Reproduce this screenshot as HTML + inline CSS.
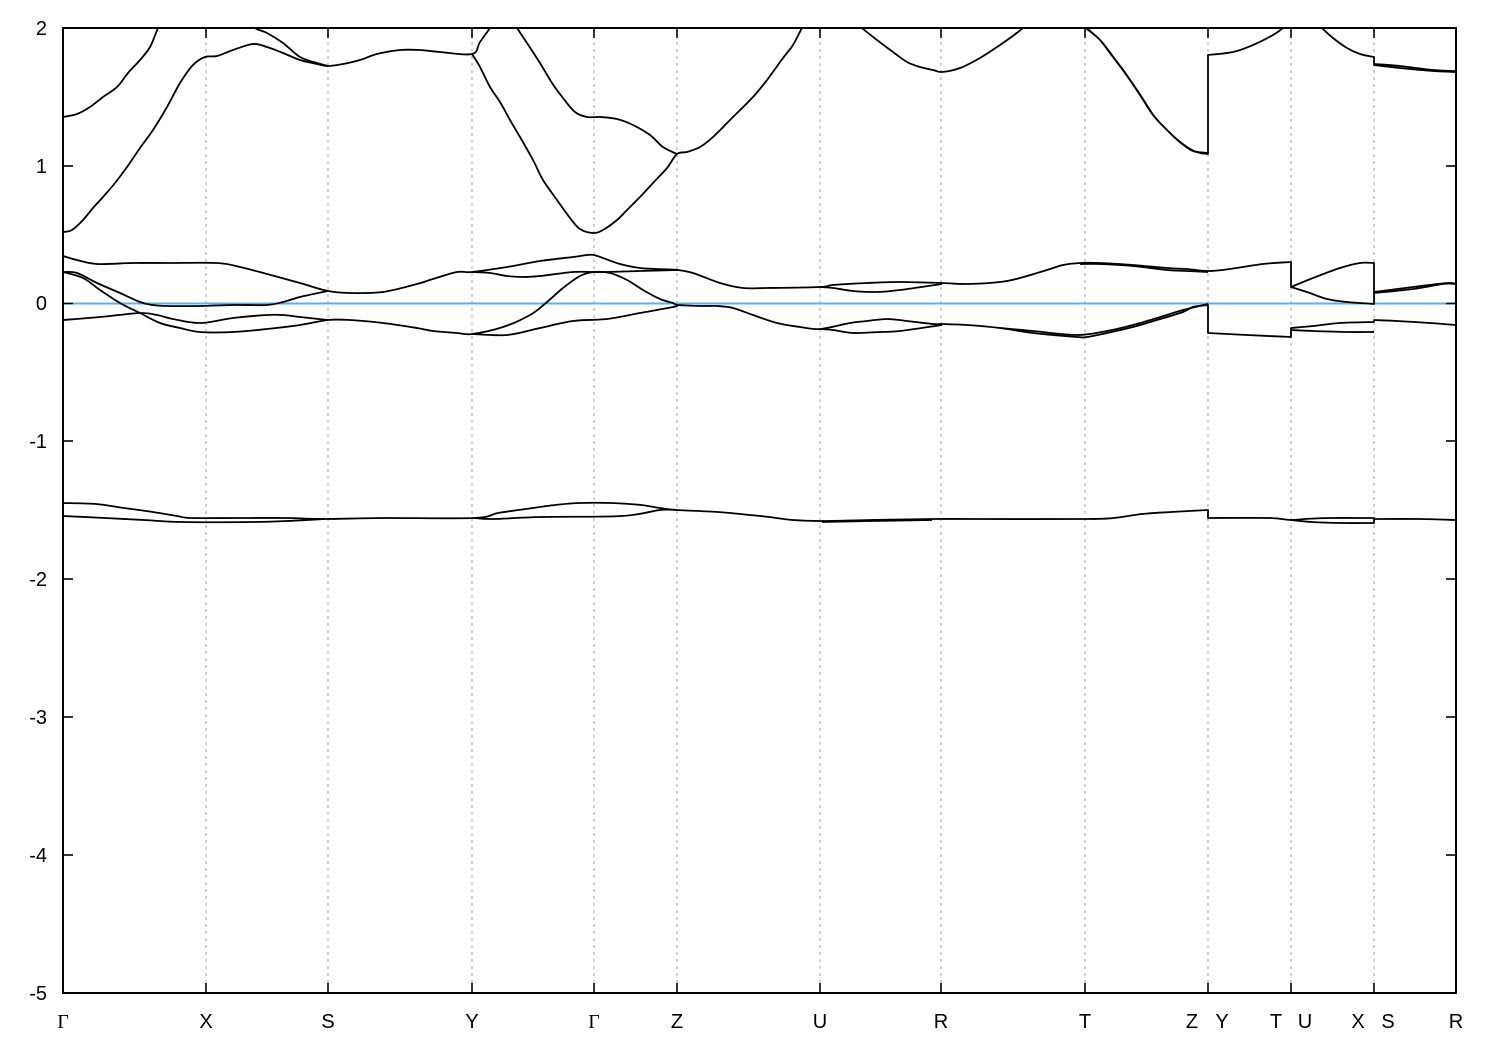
<!DOCTYPE html>
<html><head><meta charset="utf-8"><style>
html,body{margin:0;padding:0;background:#fff;}
svg{display:block;}
text{font-family:"Liberation Sans",sans-serif;font-size:20px;fill:#000;}
.g{font-family:"Liberation Serif",serif;}
</style></head><body>
<svg id="plot" width="1500" height="1050" viewBox="0 0 1500 1050" xmlns="http://www.w3.org/2000/svg">
<defs><clipPath id="c"><rect x="63" y="28" width="1393" height="965"/></clipPath></defs>
<g stroke="#a0a0a0" stroke-width="1" stroke-dasharray="3,4">
<line x1="206" y1="28" x2="206" y2="993"/><line x1="328" y1="28" x2="328" y2="993"/>
<line x1="472" y1="28" x2="472" y2="993"/><line x1="594" y1="28" x2="594" y2="993"/>
<line x1="677" y1="28" x2="677" y2="993"/><line x1="820" y1="28" x2="820" y2="993"/>
<line x1="941" y1="28" x2="941" y2="993"/><line x1="1085" y1="28" x2="1085" y2="993"/>
<line x1="1208" y1="28" x2="1208" y2="993"/><line x1="1291" y1="28" x2="1291" y2="993"/>
<line x1="1374" y1="28" x2="1374" y2="993"/>
</g>
<line x1="63" y1="303.5" x2="1456" y2="303.5" stroke="#56b4e9" stroke-width="2"/>
<g id="bands" clip-path="url(#c)" fill="none" stroke="#000" stroke-width="1.8" stroke-linejoin="round">
<polyline points="63,117 77,114 90,107 103,97 117,87 128,73 140,60 150,47 158,28 162,20"/>
<polyline points="63,232 72,230 83,220 93,208 103,197 115,183 127,167 140,148 153,130 167,107 180,83 193,65 205,57 217,56 233,50 253,44 267,47 283,53 300,60 317,64 328,66 343,64 360,60 377,54 400,50 420,50 440,52 472,54 480,42 490,28 495,20"/>
<polyline points="250,20 255,28 267,33 283,43 300,57 317,63 328,66"/>
<polyline points="472,54 480,67 490,87 500,102 510,120 520,137 533,160 543,180 557,200 570,218 580,229 593,233 603,230 617,220 627,210 640,197 653,183 667,168 677,154 687,152 700,147 713,137 733,117 753,97 767,80 783,58 793,45 802,28 808,20"/>
<polyline points="512,20 517,28 527,43 540,63 552,83 563,98 575,112 587,117 600,117 617,119 633,125 650,135 663,147 677,154"/>
<polyline points="855,20 862,28 877,40 893,52 907,62 920,67 933,70 942,72 960,68 980,58 1000,45 1010,38 1023,28 1030,20"/>
<polyline points="1080,20 1086,28 1100,40 1113,57 1125,73 1140,95 1153,115 1167,130 1180,142 1192,150 1200,153 1208,154 1208,55 1233,52 1253,45 1273,35 1283,28 1290,20"/>
<polyline points="1081,20 1087,28 1101,41 1114,58 1126,74 1141,96 1154,116 1168,131 1181,143 1193,151 1208,153"/>
<polyline points="1315,20 1322,28 1333,38 1347,48 1360,54 1374,57 1374,65 1400,68 1433,71 1456,72"/>
<polyline points="1374,64 1400,66 1433,70 1456,71"/>

<polyline points="63,256 77,260 97,264 133,263 167,263 217,263 240,267 267,274 300,283 328,291 350,293 383,292 417,284 433,279 457,272 472,272 507,267 540,261 573,257 587,255 594,255 603,258 620,264 640,268 657,269 678,270 693,273 720,283 743,288 767,288 820,287 833,285 867,283 900,282 942,283 967,284 1000,282 1020,278 1047,270 1063,265 1080,263 1100,263 1133,265 1167,268 1187,269 1208,271 1230,269 1263,264 1291,262 1291,287 1313,278 1340,268 1360,263 1374,263 1374,292 1413,287 1447,283 1456,284"/>
<polyline points="472,272 490,273 507,276 523,277 540,276 573,272 594,272 607,272 640,271 678,270"/>
<polyline points="820,287 833,288 853,291 877,292 900,290 942,284"/>
<polyline points="1080,264 1100,264 1133,266 1167,270 1187,271 1208,272"/>
<polyline points="1291,287 1307,292 1327,299 1347,302 1360,303 1374,304 1374,292"/>
<polyline points="1374,293 1413,289 1443,284 1456,284"/>

<polyline points="63,272 77,273 97,283 120,293 140,302 152,305 167,306 200,306 233,305 267,305 283,302 300,297 328,291"/>
<polyline points="63,272 83,278 100,290 120,303 140,313 160,323 180,328 200,332 233,332 267,329 300,325 328,320 350,320 383,323 417,328 433,331 457,333 472,334 503,327 530,315 547,302 563,288 580,276 594,272 610,273 627,280 643,290 660,299 673,303 678,305 700,306 717,306 733,308 753,315 777,323 800,327 820,329 850,323 867,321 887,319 907,321 933,324 942,324 967,325 1000,328 1033,333 1077,337 1087,337 1107,333 1133,327 1157,320 1183,312 1193,307 1208,305 1208,333 1247,335 1291,337 1291,328 1313,326 1340,323 1374,322 1374,320 1397,321 1430,323 1456,325"/>
<polyline points="63,320 100,317 140,313 157,315 173,319 200,323 233,318 267,315 283,315 300,317 328,320"/>
<polyline points="472,334 507,335 540,328 573,321 607,319 640,313 673,307 678,305"/>
<polyline points="820,329 833,330 853,333 880,332 900,331 942,325"/>
<polyline points="1000,328 1033,331 1077,335 1107,331 1133,325 1157,318 1183,310 1208,304"/>
<polyline points="1291,330 1313,331 1347,332 1374,332"/>

<polyline points="63,503 96,504 124,508 153,512 177,516 191,518 239,518 287,518 325,519 383,518 474,518 498,513 526,509 555,505 579,503 612,503 641,505 660,508 677,510 718,512 750,515 769,517 793,520 822,521 870,520 932,519 975,519 1085,519 1114,518 1142,514 1171,512 1208,510 1208,518 1269,518 1291,520 1305,519 1329,518 1374,518 1374,519 1420,519 1456,520"/>
<polyline points="63,516 105,518 144,520 182,522 254,522 287,521 325,519"/>
<polyline points="474,518 493,519 541,517 622,516 660,510 677,510"/>
<polyline points="822,522 870,521 932,520"/>
<polyline points="1291,520 1312,522 1343,523 1374,523 1374,519"/>
</g>
<g stroke="#000" stroke-width="1.6">
<line x1="63" y1="166" x2="73" y2="166"/><line x1="63" y1="303.5" x2="73" y2="303.5"/>
<line x1="63" y1="441" x2="73" y2="441"/><line x1="63" y1="579" x2="73" y2="579"/>
<line x1="63" y1="717" x2="73" y2="717"/><line x1="63" y1="855" x2="73" y2="855"/>
<line x1="1446" y1="166" x2="1456" y2="166"/><line x1="1446" y1="303.5" x2="1456" y2="303.5"/>
<line x1="1446" y1="441" x2="1456" y2="441"/><line x1="1446" y1="579" x2="1456" y2="579"/>
<line x1="1446" y1="717" x2="1456" y2="717"/><line x1="1446" y1="855" x2="1456" y2="855"/>
<path d="M206,28v10M328,28v10M472,28v10M594,28v10M677,28v10M820,28v10M941,28v10M1085,28v10M1208,28v10M1291,28v10M1374,28v10"/>
<path d="M206,993v-10M328,993v-10M472,993v-10M594,993v-10M677,993v-10M820,993v-10M941,993v-10M1085,993v-10M1208,993v-10M1291,993v-10M1374,993v-10"/>
</g>
<rect x="63" y="28" width="1393" height="965" fill="none" stroke="#000" stroke-width="2"/>
<g text-anchor="end">
<text x="47" y="35">2</text><text x="47" y="173">1</text><text x="47" y="310">0</text>
<text x="47" y="448">-1</text><text x="47" y="586">-2</text><text x="47" y="724">-3</text>
<text x="47" y="862">-4</text><text x="47" y="1000">-5</text>
</g>
<g text-anchor="middle">
<text class="g" x="63" y="1028">Γ</text><text x="206" y="1028">X</text><text x="328" y="1028">S</text>
<text x="472" y="1028">Y</text><text class="g" x="594" y="1028">Γ</text><text x="677" y="1028">Z</text>
<text x="820" y="1028">U</text><text x="941" y="1028">R</text><text x="1085" y="1028">T</text>
<text x="1192" y="1028">Z</text><text x="1222" y="1028">Y</text><text x="1276" y="1028">T</text>
<text x="1305" y="1028">U</text><text x="1358" y="1028">X</text><text x="1388" y="1028">S</text>
<text x="1456" y="1028">R</text>
</g>
</svg>
<script>
(function(){
  var ns="http://www.w3.org/2000/svg";
  var g=document.getElementById("bands");
  var pls=Array.prototype.slice.call(g.getElementsByTagName("polyline"));
  pls.forEach(function(pl){
    var pts=pl.getAttribute("points").trim().split(/\s+/).map(function(s){var a=s.split(",");return [parseFloat(a[0]),parseFloat(a[1])];});
    var n=pts.length; if(n<3) return;
    function vert(i,j){return i<0||j>=n||Math.abs(pts[i][0]-pts[j][0])<0.01;}
    var d="M"+pts[0][0]+","+pts[0][1];
    for(var i=0;i<n-1;i++){
      var p1=pts[i],p2=pts[i+1];
      if(Math.abs(p1[0]-p2[0])<0.01){d+=" L"+p2[0]+","+p2[1];continue;}
      var p0=(i>0&&!vert(i-1,i))?pts[i-1]:p1;
      var p3=(i+2<n&&!vert(i+1,i+2))?pts[i+2]:p2;
      var c1x=p1[0]+(p2[0]-p0[0])/6,c1y=p1[1]+(p2[1]-p0[1])/6;
      var c2x=p2[0]-(p3[0]-p1[0])/6,c2y=p2[1]-(p3[1]-p1[1])/6;
      d+=" C"+c1x.toFixed(2)+","+c1y.toFixed(2)+" "+c2x.toFixed(2)+","+c2y.toFixed(2)+" "+p2[0]+","+p2[1];
    }
    var p=document.createElementNS(ns,"path");
    p.setAttribute("d",d);
    g.replaceChild(p,pl);
  });
})();
</script>
</body></html>
